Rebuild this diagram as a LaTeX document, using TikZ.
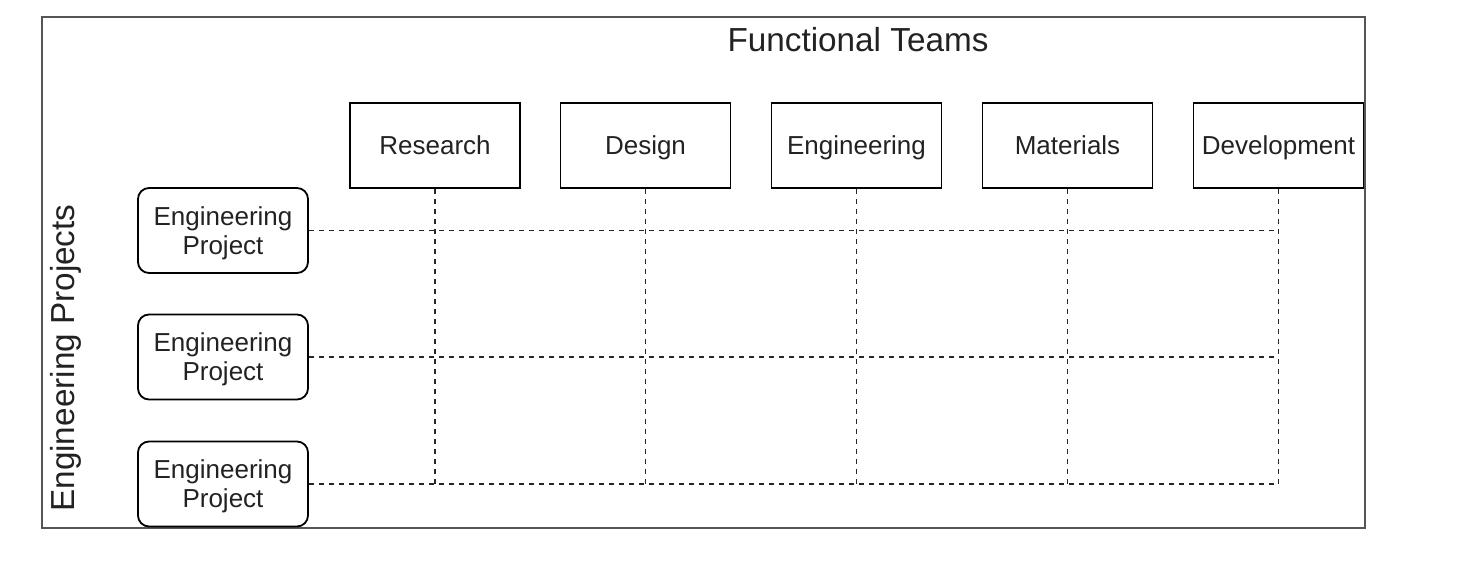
\documentclass[tikz,border=0pt]{standalone}
\usepackage{fontspec}
\setmainfont{Liberation Sans}
\definecolor{txt}{HTML}{222222}
\definecolor{frame}{HTML}{555555}
\begin{document}
\begin{tikzpicture}[x=1pt,y=-1pt,
  teambox/.style={draw=black,line width=1.8pt,minimum width=170pt,minimum height=85pt,inner sep=0pt,text height=18.6pt,text depth=0pt,text=txt,font=\fontsize{26}{29}\selectfont},
  projbox/.style={draw=black,line width=1.8pt,rounded corners=11pt,minimum width=170pt,minimum height=85pt,inner sep=0pt,align=center,text depth=0pt,text=txt,font=\fontsize{26}{29}\selectfont},
  title/.style={text=txt,font=\fontsize{33.3}{38}\selectfont,inner sep=0pt},
  grid/.style={draw=black!85,line width=1.7pt,dash pattern=on 5.5pt off 4.5pt}
]
\useasboundingbox (0,0) rectangle (1470,560);
\draw[frame,line width=1.8pt] (42,17) rectangle (1365,528);
\node[title] (ft) at (858,40) {Functional Teams};
\node[title,rotate=90] (ep) at (66,358) {Engineering Projects};
\node[teambox] (t1) at (435,145.5) {Research};
\node[teambox] (t2) at (645.5,145.5) {Design};
\node[teambox] (t3) at (856.5,145.5) {Engineering};
\node[teambox] (t4) at (1067.5,145.5) {Materials};
\node[teambox] (t5) at (1278.5,145.5) {Development};
\node[projbox] (p1) at (223,230.5) {Engineering\\Project};
\node[projbox] (p2) at (223,357) {Engineering\\Project};
\node[projbox] (p3) at (223,484) {Engineering\\Project};
\foreach \p in {p1,p2,p3}{
  \draw[grid] (\p.east) -- (\p.east -| t5.south);
}
\foreach \t in {t1,t2,t3,t4,t5}{
  \draw[grid] (\t.south) -- (\t.south |- p3.east);
}
\end{tikzpicture}
\end{document}
